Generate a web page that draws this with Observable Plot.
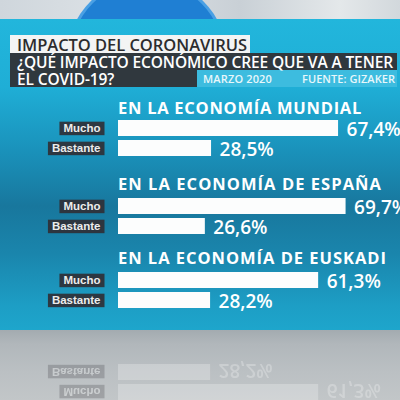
<!DOCTYPE html>
<html><head><meta charset="utf-8">
<script src="https://cdn.jsdelivr.net/npm/d3@7"></script>
<script src="https://cdn.jsdelivr.net/npm/@observablehq/plot@0.6"></script>
<style>
html,body{margin:0;padding:0;width:400px;height:400px;overflow:hidden;}
body{position:relative;background:linear-gradient(90deg,#cfd6dc 0%,#dde2e6 30%,#c9d0d6 60%,#e4e8ea 85%,#d2d8dc 100%);font-family:"Open Sans",sans-serif;}
.abs{position:absolute;white-space:nowrap;}
#circle{left:70px;top:-19px;width:154px;height:154px;border-radius:50%;background:#1f7fd3;box-shadow:0 0 0 3px #4aa0e4;}
#panel{left:0;top:19px;width:400px;height:312px;background:linear-gradient(180deg,#22b6dc 0%,#1faed6 22%,#1a92bb 42%,#18779d 60%,#1a85ac 75%,#1d9ec5 92%,#1ea6cc 100%);}
#floor{left:0;top:330px;width:400px;height:70px;background:linear-gradient(180deg,#a3abb0 0%,#b1b7bb 20%,#bbc0c3 60%,#c2c6c8 100%);}
.hdr{font-weight:600;line-height:16px;height:16px;}
.sec{color:#fff;font-weight:700;font-size:16.5px;line-height:17px;left:118px;}
svg{overflow:visible;}
</style></head><body>
<div id="circle" class="abs"></div>
<div id="panel" class="abs"></div>
<div id="floor" class="abs"></div>
<div id="root"></div>
<script>
// ---- data ----
const title = "IMPACTO DEL CORONAVIRUS";
const questionLines = ["¿QUÉ IMPACTO ECONÓMICO CREE QUE VA A TENER", "EL COVID-19?"];
const dateLabel = "MARZO 2020";
const sourceLabel = "FUENTE: GIZAKER";
const sections = ["EN LA ECONOMÍA MUNDIAL", "EN LA ECONOMÍA DE ESPAÑA", "EN LA ECONOMÍA DE EUSKADI"];
const answers = ["Mucho", "Bastante"];
const mucho = [67.4, 69.7, 61.3];
const bastante = [28.5, 26.6, 28.2];

// ---- layout helpers ----
const root = document.getElementById("root");
function div(cls, css, text) {
  const d = document.createElement("div");
  d.className = "abs " + (cls || "");
  Object.assign(d.style, css);
  if (text != null) d.textContent = text;
  root.appendChild(d);
  return d;
}
function fit(el, w) {
  const cur = el.getBoundingClientRect().width;
  const n = el.textContent.length;
  el.style.letterSpacing = ((w - cur) / n) + "px";
}

// header
div("", {left:"10px", top:"35px", width:"240px", height:"18px", background:"#f3f4f4"});
const t = div("hdr", {left:"17px", top:"36px", fontSize:"16.5px", color:"#2c2c2e", lineHeight:"17px", height:"17px", fontWeight:"600"}, title);
fit(t, 230);
div("", {left:"10px", top:"53px", width:"387px", height:"17px", background:"rgba(50,50,54,0.95)"});
div("", {left:"10px", top:"70px", width:"187px", height:"17px", background:"rgba(50,50,54,0.95)"});
div("", {left:"197px", top:"70px", width:"200px", height:"17px", background:"#3dbcdf"});
const q1 = div("hdr", {left:"17px", top:"54px", fontSize:"15.5px", color:"#fff"}, questionLines[0]);
fit(q1, 376);
const q2 = div("hdr", {left:"17px", top:"71px", fontSize:"15.5px", color:"#fff"}, questionLines[1]);
q2.style.letterSpacing = q1.style.letterSpacing;
const dl = div("hdr", {left:"203px", top:"71px", fontSize:"11px", color:"#e8f7fb"}, dateLabel);
fit(dl, 69);
const sl = div("hdr", {left:"302px", top:"71px", fontSize:"11px", color:"#e8f7fb"}, sourceLabel);
fit(sl, 93);

// sections
const headTops = [99, 175, 249];
const plotTops = [118, 196, 270];
const headWidths = [244, 264, 269];
const fmt = v => v.toFixed(1).replace(".", ",") + "%";

function makePlot(i) {
  const data = answers.map((a, j) => ({answer: a, value: [mucho, bastante][j][i]}));
  return Plot.plot({
    width: 400, height: 40,
    marginTop: 0, marginBottom: 0, marginRight: 0, marginLeft: 118,
    style: {background: "transparent", overflow: "visible", fontFamily: "'Liberation Sans', Arial, sans-serif"},
    x: {domain: [0, 100], range: [118, 444.5], axis: null},
    y: {domain: answers, range: [0, 40], paddingInner: 0.18, paddingOuter: 0.09, axis: null},
    marks: [
      Plot.axisY({anchor: "left", tickSize: 0, tickPadding: 18, fontSize: 11.5, fontWeight: "bold", fill: "#ececec", label: null}),
      Plot.barX(data, {x: "value", y: "answer", fill: "#fcfdfd"}),
      Plot.text(data, {x: "value", y: "answer", text: d => fmt(d.value), dx: 8, dy: 1, textAnchor: "start",
        fill: "#ffffff", fontSize: 19, fontWeight: 600, fontFamily: "'Open Sans', sans-serif"})
    ]
  });
}

function boxLabels(svg) {
  svg.querySelectorAll('g[aria-label="y-axis tick label"] text').forEach(tx => {
    const b = tx.getBBox();
    const r = document.createElementNS("http://www.w3.org/2000/svg", "rect");
    const tr = tx.getAttribute("transform");
    if (tr) r.setAttribute("transform", tr);
    r.setAttribute("x", b.x - 4);
    r.setAttribute("y", b.y - 0.5);
    r.setAttribute("width", b.width + 8);
    r.setAttribute("height", b.height + 1.5);
    r.setAttribute("fill", "rgba(48,46,52,0.9)");
    tx.parentNode.insertBefore(r, tx);
  });
}

sections.forEach((s, i) => {
  const h = div("sec", {top: headTops[i] + "px"}, s);
  fit(h, headWidths[i]);
  const wrap = div("", {left: "0px", top: plotTops[i] + "px", width: "400px", height: "40px"});
  const svg = makePlot(i);
  wrap.appendChild(svg);
  boxLabels(svg);
});

// reflection on the floor
const refl = div("", {left: "0px", top: "362px", width: "400px", height: "40px", transform: "scaleY(-1)", opacity: "0.26", filter: "blur(0.7px)"});
const rsvg = makePlot(2);
refl.appendChild(rsvg);
boxLabels(rsvg);
</script>
</body></html>
